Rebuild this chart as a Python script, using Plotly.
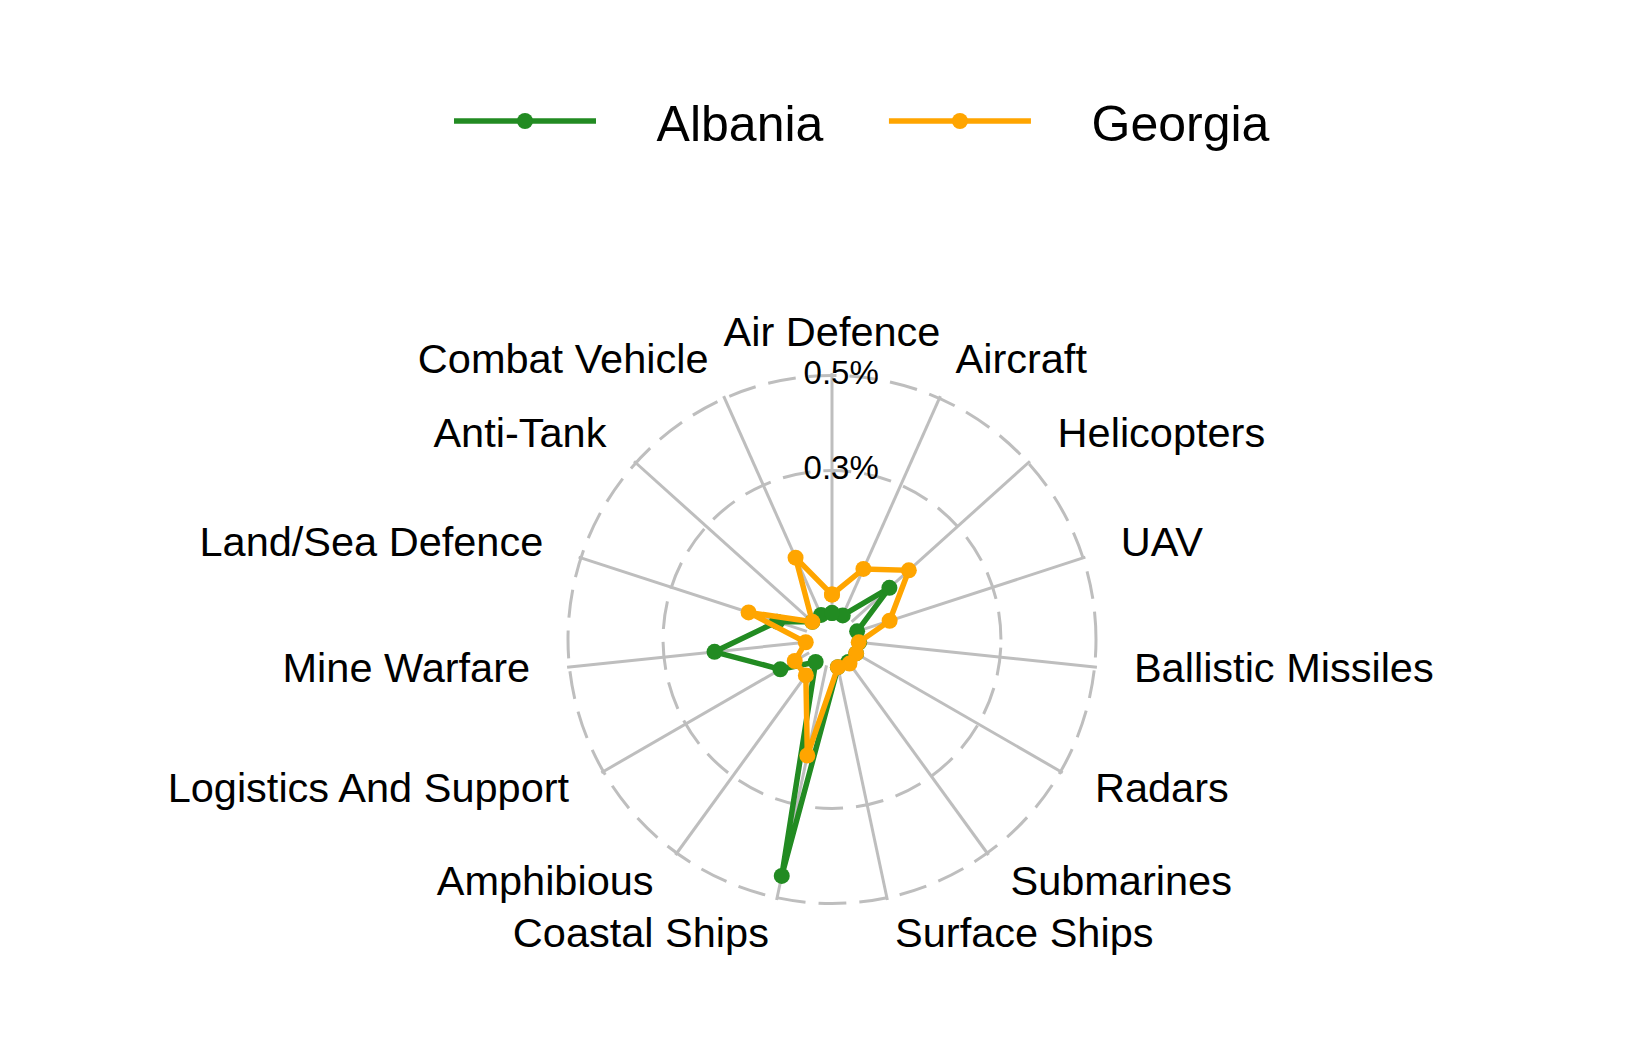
import math
import plotly.graph_objects as go

categories = ["Air Defence", "Aircraft", "Helicopters", "UAV", "Ballistic Missiles",
              "Radars", "Submarines", "Surface Ships", "Coastal Ships", "Amphibious",
              "Logistics And Support", "Mine Warfare", "Land/Sea Defence", "Anti-Tank",
              "Combat Vehicle"]
albania = [0.0, 0.0, 0.107, 0.0, 0.002, 0.003, 0.003, 0.004, 0.453, 0.003,
           0.07, 0.193, 0.066, 0.0, 0.001]
georgia = [0.039, 0.107, 0.162, 0.072, 0.001, 0.003, 0.007, 0.004, 0.194, 0.038,
           0.035, 0.0, 0.129, 0.0, 0.133]
radial_ticks = [0.3, 0.5]
radial_ticktext = ["0.3%", "0.5%"]

FONT = "Liberation Sans, Arial, Helvetica, sans-serif"
GRID = "#BEBEBE"
NB = "\u00a0"

# layout geometry (px)
W, H = 1650, 1050
cx, cy = 832, 639.5
R_grid = 264.0          # radius of the 0.5 circle
hole_px = 26.4          # radius of value 0
r_max = 0.505           # a little beyond 0.5 so the 0.5 grid circle is drawn
R_dom = hole_px + (R_grid - hole_px) * r_max / 0.5
hole = hole_px / R_dom
# outer helper polar used only to place the category labels at 1.15 x outer radius
R_lab = 1.2 * R_grid
label_frac = 1.15 * R_grid / R_lab


def dom(R):
    return dict(x=[(cx - R) / W, (cx + R) / W], y=[(H - cy - R) / H, (H - cy + R) / H])


fig = go.Figure()
for name, vals, color in [("Albania", albania, "#228B22"), ("Georgia", georgia, "#FFA500")]:
    label = NB * 4 + name + (NB * 4 if name == "Albania" else "")
    fig.add_trace(go.Scatterpolar(
        r=vals + vals[:1],
        theta=categories + categories[:1],
        mode="lines+markers",
        name=label,
        line=dict(color=color, width=5.5),
        marker=dict(color=color, size=16),
        cliponaxis=False,
    ))

# radial grid labels, placed on the top spoke
fig.add_trace(go.Scatterpolar(
    r=radial_ticks,
    theta=[categories[0]] * len(radial_ticks),
    mode="text",
    text=[NB * 2 + t for t in radial_ticktext],
    textposition="middle center",
    textfont=dict(size=33, family=FONT, color="black"),
    showlegend=False,
    hoverinfo="skip",
    cliponaxis=False,
))

# category labels
n = len(categories)
positions = []
for i in range(n):
    s = math.sin(math.radians(360.0 * i / n))
    positions.append("middle center" if abs(s) < 1e-6 else ("middle right" if s > 0 else "middle left"))
fig.add_trace(go.Scatterpolar(
    r=[label_frac] * n,
    theta=categories,
    mode="text",
    text=categories,
    textposition=positions,
    textfont=dict(size=41.5, family=FONT, color="black"),
    showlegend=False,
    hoverinfo="skip",
    cliponaxis=False,
    subplot="polar2",
))

fig.update_layout(
    width=W, height=H,
    margin=dict(l=0, r=0, t=0, b=0),
    paper_bgcolor="white",
    plot_bgcolor="white",
    font=dict(family=FONT, color="black"),
    showlegend=True,
    legend=dict(orientation="h", x=862 / W, xanchor="center", y=1 - 121 / H, yanchor="middle",
                font=dict(size=50, family=FONT), itemwidth=142),
    polar=dict(
        domain=dom(R_dom),
        bgcolor="white",
        hole=hole,
        radialaxis=dict(range=[0, r_max], tickvals=radial_ticks, showticklabels=False,
                        angle=90, showline=False, ticks="",
                        gridcolor=GRID, gridwidth=3, griddash="28px,13px"),
        angularaxis=dict(direction="clockwise", rotation=90, categoryarray=categories,
                         categoryorder="array", type="category", showline=False, ticks="",
                         showticklabels=False, gridcolor=GRID, gridwidth=3),
    ),
    polar2=dict(
        domain=dom(R_lab),
        bgcolor="rgba(0,0,0,0)",
        radialaxis=dict(range=[0, 1], visible=False),
        angularaxis=dict(direction="clockwise", rotation=90, categoryarray=categories,
                         categoryorder="array", type="category", visible=False),
    ),
)

fig.write_html("out.html")
